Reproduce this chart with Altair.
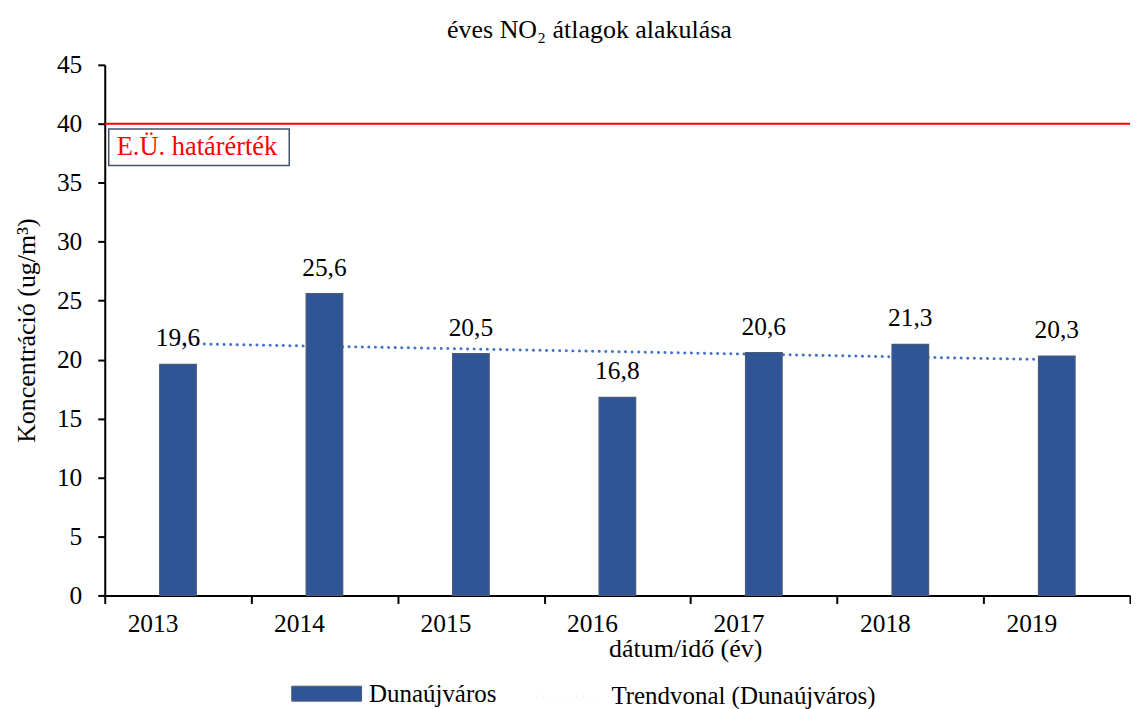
import altair as alt
import pandas as pd

years = ["2013", "2014", "2015", "2016", "2017", "2018", "2019"]
values = [19.6, 25.6, 20.5, 16.8, 20.6, 21.3, 20.3]
limit_value = 40
limit_label = "E.Ü. határérték"
series_name = "Dunaújváros"
trend_name = "Trendvonal (Dunaújváros)"

df = pd.DataFrame({"year": years, "value": values, "series": series_name})
FONT = "Liberation Serif"
FS = 25.5

x_enc = alt.X("year:O", title="dátum/idő (év)",
              scale=alt.Scale(paddingInner=0, paddingOuter=0),
              axis=alt.Axis(labelAngle=0, tickBand="extent", labelPadding=20,
                            tickSize=8, titleX=582, titleY=53, titleBaseline="middle",
                            titleFontSize=26))
y_scale = alt.Scale(domain=[0, 45])
y_axis = alt.Axis(values=list(range(0, 50, 5)), grid=False, title="Koncentráció (ug/m³)",
                  labelPadding=16, titlePadding=17, tickSize=7, titleFontSize=26)

base = alt.Chart(df)

trend = base.transform_calculate(yr="toNumber(datum.year)").transform_regression(
    "yr", "value", method="linear"
).transform_calculate(
    year="toString(datum.yr)", kind="'" + trend_name + "'"
).mark_line(color="#4472C4", strokeWidth=3, strokeCap="round").encode(
    x=alt.X("year:O"),
    y=alt.Y("value:Q", scale=y_scale),
    strokeDash=alt.StrokeDash("kind:N", scale=alt.Scale(domain=[trend_name], range=[[0.1, 6.5]]),
                              legend=alt.Legend(title=None, orient="none", legendX=432, legendY=599,
                                                symbolType="stroke", symbolDash=[2.5, 4.5],
                                                symbolSize=4225, symbolStrokeWidth=3,
                                                symbolStrokeColor="#4472C4",
                                                labelFont=FONT, labelFontSize=25, labelLimit=500,
                                                labelOffset=8, labelColor="#000")),
)

bars = base.mark_bar(width=alt.RelativeBandSize(0.25), stroke="#4A5A78", strokeWidth=1.2).encode(
    x=x_enc,
    y=alt.Y("value:Q", scale=y_scale, axis=y_axis),
    fill=alt.Fill("series:N", scale=alt.Scale(domain=[series_name], range=["#2F5597"]),
                  legend=alt.Legend(title=None, orient="none", legendX=187, legendY=595,
                                    symbolType="M-1,-0.214L1,-0.214L1,0.214L-1,0.214Z",
                                    symbolSize=4900, symbolStrokeColor="#4A5A78",
                                    symbolStrokeWidth=1, symbolOpacity=1,
                                    labelFont=FONT, labelFontSize=25, labelColor="#000",
                                    labelLimit=500, labelOffset=7)),
)

labels = base.transform_calculate(
    label="replace(format(datum.value, '.1f'), '.', ',')"
).mark_text(font=FONT, fontSize=FS, baseline="alphabetic", dy=-18, color="#000").encode(
    x="year:O", y=alt.Y("value:Q", scale=y_scale), text="label:N"
)

limit_df = pd.DataFrame({"limit": [limit_value], "label": [limit_label]})
limit_line = alt.Chart(limit_df).mark_rule(color="#FF0000", strokeWidth=2).encode(
    y=alt.Y("limit:Q", scale=y_scale)
)
limit_box = alt.Chart(limit_df).mark_rect(fill="white", stroke="#44546A", strokeWidth=1.5).encode(
    x=alt.value(4), x2=alt.value(185),
    y=alt.Y("lo:Q", scale=y_scale), y2="hi:Q"
).transform_calculate(lo="datum.limit - 3.54", hi="datum.limit - 0.45")
limit_text = alt.Chart(limit_df).mark_text(
    font=FONT, fontSize=26.5, color="#FF0000", align="left", baseline="middle"
).encode(
    x=alt.value(12), y=alt.Y("mid:Q", scale=y_scale), text="label:N"
).transform_calculate(mid="datum.limit - 2.0")

chart = alt.layer(limit_line, trend, bars, labels, limit_box, limit_text).properties(
    width=1028, height=532,
    title=alt.Title("éves NO₂ átlagok alakulása", font=FONT, fontSize=26,
                    fontWeight="normal", color="#000", offset=10, dx=-28),
).configure_view(stroke=None).configure_axis(
    labelFont=FONT, titleFont=FONT, labelFontSize=FS, titleFontSize=26,
    titleFontWeight="normal", labelColor="#000", titleColor="#000",
    domainColor="#000", tickColor="#000", domainWidth=2, tickWidth=2,
).properties(padding={"left": 5, "top": 8, "right": 0, "bottom": 40})

chart.save("out.html", embed_options={"renderer": "svg", "actions": False})
